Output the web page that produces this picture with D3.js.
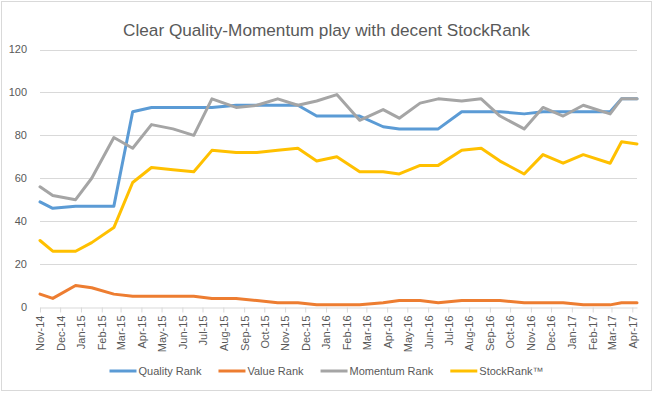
<!DOCTYPE html>
<html>
<head>
<meta charset="utf-8">
<script src="https://cdn.jsdelivr.net/npm/d3@7"></script>
<style>
  body { margin: 0; background: #fff; }
  svg { display: block; font-family: "Liberation Sans", Arial, sans-serif; }
</style>
</head>
<body>
<div id="chart"></div>
<script>
// observation dates (irregular, roughly monthly)
const dates = [
  '2014-11-01', '2014-11-20', '2014-12-24', '2015-01-17', '2015-02-19', '2015-03-19',
  '2015-04-16', '2015-05-18', '2015-06-18', '2015-07-15', '2015-08-20', '2015-09-20',
  '2015-10-21', '2015-11-20', '2015-12-18', '2016-01-17', '2016-02-20', '2016-03-26',
  '2016-04-19', '2016-05-20', '2016-06-16', '2016-07-21', '2016-08-19', '2016-09-16',
  '2016-10-22', '2016-11-19', '2016-12-19', '2017-01-18', '2017-02-27', '2017-03-16',
  '2017-04-08',
];
const qualityRank = [49, 46, 47, 47, 47, 91, 93, 93, 93, 93, 94, 94, 94, 94, 89, 89, 89, 84, 83, 83, 83, 91, 91, 91, 90, 91, 91, 91, 91, 97, 97];
const valueRank = [6, 4, 10, 9, 6, 5, 5, 5, 5, 4, 4, 3, 2, 2, 1, 1, 1, 2, 3, 3, 2, 3, 3, 3, 2, 2, 2, 1, 1, 2, 2];
const momentumRank = [56, 52, 50, 60, 79, 74, 85, 83, 80, 97, 93, 94, 97, 94, 96, 99, 87, 92, 88, 95, 97, 96, 97, 89, 83, 93, 89, 94, 90, 97, 97];
const stockRank = [31, 26, 26, 30, 37, 58, 65, 64, 63, 73, 72, 72, 73, 74, 68, 70, 63, 63, 62, 66, 66, 73, 74, 68, 62, 71, 67, 71, 67, 77, 76];

const tickLabels = [
  'Nov-14', 'Dec-14', 'Jan-15', 'Feb-15', 'Mar-15', 'Apr-15', 'May-15', 'Jun-15', 'Jul-15', 'Aug-15',
  'Sep-15', 'Oct-15', 'Nov-15', 'Dec-15', 'Jan-16', 'Feb-16', 'Mar-16', 'Apr-16', 'May-16', 'Jun-16',
  'Jul-16', 'Aug-16', 'Sep-16', 'Oct-16', 'Nov-16', 'Dec-16', 'Jan-17', 'Feb-17', 'Mar-17', 'Apr-17',
];
const yTicks = [0, 20, 40, 60, 80, 100, 120];

const seriesNames = ['Quality Rank', 'Value Rank', 'Momentum Rank', 'StockRank\u2122'];
const seriesColors = ['#5b9bd5', '#ed7d31', '#a5a5a5', '#ffc000'];

const W = 653;
const H = 393;
const plot = { left: 40, right: 637, top: 49.5, bottom: 307 };

const parseDate = d3.timeParse('%Y-%m-%d');
const parseTick = d3.timeParse('%b-%y');
const dateVals = dates.map(parseDate);
const tickVals = tickLabels.map(parseTick);

const series = [qualityRank, valueRank, momentumRank, stockRank].map((vals, i) => ({
  name: seriesNames[i],
  color: seriesColors[i],
  values: vals.map((v, j) => ({ date: dateVals[j], value: v })),
}));

const svg = d3.select('#chart').append('svg')
  .attr('width', W)
  .attr('height', H);

svg.append('rect')
  .attr('x', 1.5).attr('y', 1.5)
  .attr('width', 650).attr('height', 389)
  .attr('fill', '#fff')
  .attr('stroke', '#d9d9d9');

const x = d3.scaleTime()
  .domain([dateVals[0], dateVals[dateVals.length - 1]])
  .range([plot.left, plot.right]);

const y = d3.scaleLinear()
  .domain([0, 120])
  .range([plot.bottom, plot.top]);

// title
svg.append('text')
  .attr('x', W / 2)
  .attr('y', 36)
  .attr('text-anchor', 'middle')
  .attr('font-size', 17.2)
  .attr('fill', '#595959')
  .text('Clear Quality-Momentum play with decent StockRank');

// gridlines
svg.append('g')
  .selectAll('line')
  .data(yTicks.filter(d => d > 0))
  .enter().append('line')
  .attr('x1', plot.left)
  .attr('x2', plot.right)
  .attr('y1', d => Math.round(y(d)) + 0.5)
  .attr('y2', d => Math.round(y(d)) + 0.5)
  .attr('stroke', '#d9d9d9');

// y labels
svg.append('g')
  .selectAll('text')
  .data(yTicks)
  .enter().append('text')
  .attr('x', 27)
  .attr('y', d => y(d))
  .attr('dy', '0.35em')
  .attr('text-anchor', 'end')
  .attr('font-size', 11)
  .attr('fill', '#595959')
  .text(d => d);

// x axis
const xAxis = svg.append('g')
  .attr('transform', `translate(0,${Math.round(y(0)) + 0.5})`)
  .call(d3.axisBottom(x)
    .tickValues(tickVals)
    .tickFormat((d, i) => tickLabels[i])
    .tickSize(5)
    .tickSizeOuter(0));

xAxis.select('.domain').attr('stroke', '#d9d9d9');
xAxis.selectAll('.tick line').attr('stroke', '#d9d9d9');
xAxis.selectAll('.tick text')
  .attr('transform', 'rotate(-90)')
  .attr('x', -8)
  .attr('y', 0)
  .attr('dy', '0.35em')
  .attr('text-anchor', 'end')
  .attr('font-size', 11)
  .attr('font-family', '"Liberation Sans", Arial, sans-serif')
  .attr('fill', '#595959');

// lines
const line = d3.line()
  .x(d => x(d.date))
  .y(d => y(d.value));

svg.append('g')
  .selectAll('path')
  .data(series)
  .enter().append('path')
  .attr('d', d => line(d.values))
  .attr('fill', 'none')
  .attr('stroke', d => d.color)
  .attr('stroke-width', 3)
  .attr('stroke-linejoin', 'round')
  .attr('stroke-linecap', 'round');

// legend
const legend = svg.append('g');
const items = legend.selectAll('g')
  .data(series)
  .enter().append('g');

items.append('line')
  .attr('x1', 0).attr('x2', 27)
  .attr('y1', 0).attr('y2', 0)
  .attr('stroke', d => d.color)
  .attr('stroke-width', 3);

items.append('text')
  .attr('x', 29)
  .attr('dy', '0.35em')
  .attr('font-size', 11)
  .attr('fill', '#595959')
  .text(d => d.name);

let offset = 0;
const widths = [];
items.each(function () {
  const w = 29 + this.querySelector('text').getComputedTextLength();
  widths.push(w);
});
const gap = 17;
const total = d3.sum(widths) + gap * (widths.length - 1);
const start = W / 2 - total / 2;
items.attr('transform', (d, i) => {
  const tx = start + offset;
  offset += widths[i] + gap;
  return `translate(${tx},371)`;
});
</script>
</body>
</html>
